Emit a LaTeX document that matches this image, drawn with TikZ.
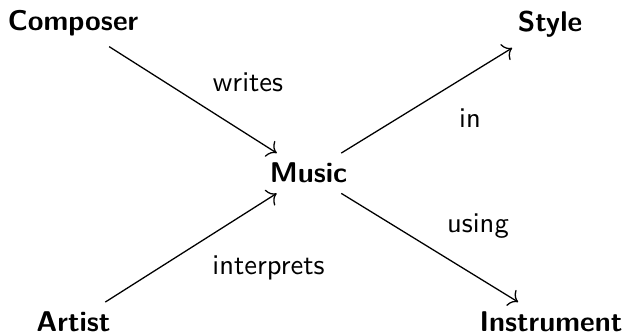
\documentclass[tikz,border=0pt]{standalone}
\usetikzlibrary{arrows.meta}
\begin{document}
\begin{tikzpicture}[x=0.35pt, y=-0.35pt,
  concept/.style={font=\sffamily\bfseries, anchor=base},
  rel/.style={font=\sffamily, anchor=base, inner sep=0pt},
  link/.style={-{To[length=3pt,width=6.5pt]}, line width=0.45pt}]
  \useasboundingbox (0,0) rectangle (625,335);
  % concepts
  \node[concept] (composer)   at (73,31)   {Composer};
  \node[concept] (style)      at (550,32)  {Style};
  \node[concept] (music)      at (308.5,183) {Music};
  \node[concept] (artist)     at (73.5,332) {Artist};
  \node[concept] (instrument) at (551,332) {Instrument};
  % relations
  \draw[link] (composer) -- (music);
  \draw[link] (artist) -- (music);
  \draw[link] (music) -- (style);
  \draw[link] (music) -- (instrument);
  % relation labels
  \node[rel] (lwrites) at (248,92)    {writes};
  \node[rel] (lin)     at (470,128)   {in};
  \node[rel] (linterp) at (268.5,275) {interprets};
  \node[rel] (lusing)  at (478,233)   {using};
\end{tikzpicture}
\end{document}
